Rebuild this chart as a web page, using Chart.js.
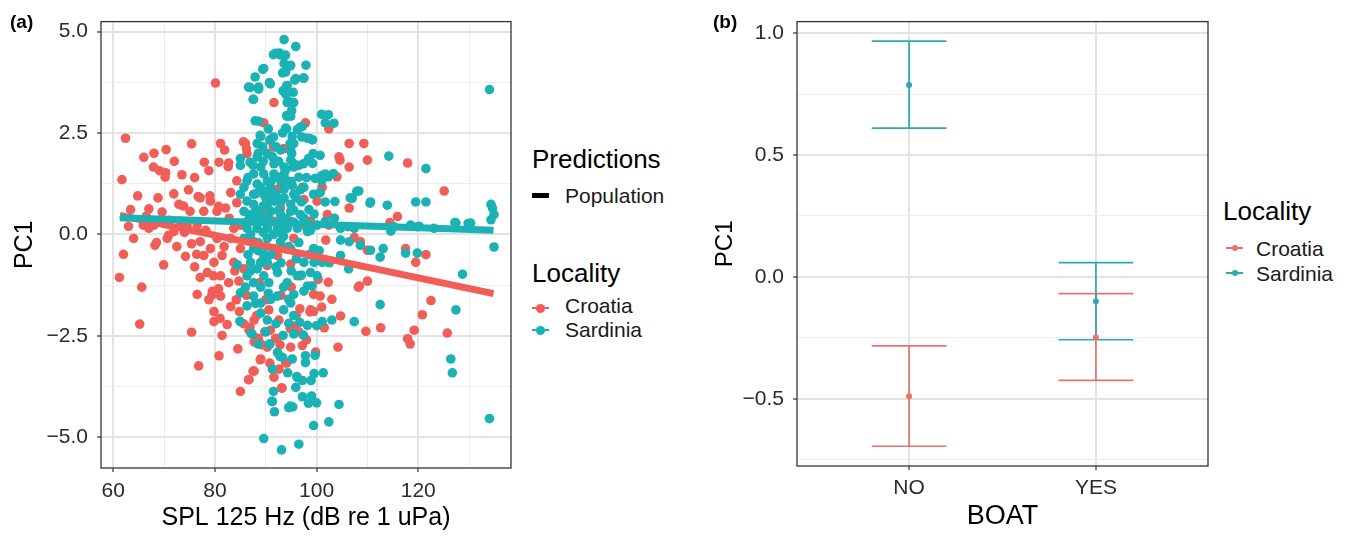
<!DOCTYPE html>
<html>
<head>
<meta charset="utf-8">
<title>PC1 vs SPL and BOAT</title>
<script src="https://cdn.jsdelivr.net/npm/chart.js@4.4.1/dist/chart.umd.min.js"></script>
<style>
    body { margin: 0; background: #fff; font-family: 'Liberation Sans', Arial, Helvetica, sans-serif; }
    #page { position: relative; width: 1348px; height: 537px; overflow: hidden; }
    canvas { position: absolute; top: 0; }
    .txt { position: absolute; line-height: 1; white-space: nowrap; color: #000; }
    .panel-tag { font-weight: bold; font-size: 19px; }
    .leg-title { font-size: 26px; }
    .leg-item { font-size: 21px; color: #1a1a1a; }
    .key-line { position: absolute; width: 17px; height: 2px; }
    .key-dot { position: absolute; border-radius: 50%; }
</style>
</head>
<body>
<div id="page">
    <canvas id="scatterChart" width="520" height="537" style="left:0"></canvas>
    <canvas id="boatChart" width="515" height="537" style="left:700px"></canvas>

    <div class="txt panel-tag" style="left:10px;top:12px">(a)</div>
    <div class="txt panel-tag" style="left:713px;top:12px">(b)</div>

    <!-- legend panel (a) -->
    <div class="txt leg-title" style="left:532px;top:146px">Predictions</div>
    <div style="position:absolute;left:532px;top:193px;width:17px;height:5px;background:#000"></div>
    <div class="txt leg-item" style="left:565px;top:185px">Population</div>
    <div class="txt leg-title" style="left:532px;top:260px">Locality</div>
    <div class="key-line" style="left:532px;top:307px;background:#F15E58"></div>
    <div class="key-dot" style="left:536px;top:304px;width:9px;height:9px;background:#F15E58"></div>
    <div class="txt leg-item" style="left:565px;top:295px">Croatia</div>
    <div class="key-line" style="left:532px;top:329px;background:#1AB2B4"></div>
    <div class="key-dot" style="left:536px;top:326px;width:9px;height:9px;background:#1AB2B4"></div>
    <div class="txt leg-item" style="left:565px;top:319px">Sardinia</div>

    <!-- legend panel (b) -->
    <div class="txt leg-title" style="left:1223px;top:198px">Locality</div>
    <div class="key-line" style="left:1226px;top:247px;height:1.6px;background:#E8736C"></div>
    <div class="key-dot" style="left:1232px;top:245px;width:6px;height:6px;background:#E8736C"></div>
    <div class="txt leg-item" style="left:1256px;top:238px">Croatia</div>
    <div class="key-line" style="left:1226px;top:272px;height:1.6px;background:#2BAAB2"></div>
    <div class="key-dot" style="left:1232px;top:270px;width:6px;height:6px;background:#2BAAB2"></div>
    <div class="txt leg-item" style="left:1256px;top:263px">Sardinia</div>
</div>

<script>
// --- DATA: panel (a), SPL 125 Hz vs PC1 ---
const croatiaSPL = [80.1, 62.4, 61.7, 61.2, 62.0, 65.6, 65.2, 70.4, 70.2, 67.9, 69.1, 64.8, 63.4, 67.0, 71.9, 73.5, 75.4, 77.9, 77.1, 72.9,
    69.6, 68.2, 69.9, 70.9, 74.2, 75.4, 76.8, 76.5, 77.1, 78.8, 79.8, 80.8, 79.8, 81.1, 81.4, 82.4, 83.1, 84.2, 84.5, 85.0,
    86.7, 87.7, 89.0, 87.7, 89.0, 81.1, 81.9, 78.8, 80.8, 82.7, 84.3, 86.0, 86.3, 91.6, 89.6, 94.2, 97.8, 102.4, 106.4, 109.3,
    110.0, 104.4, 106.4, 117.9, 125.1, 115.9, 106.4, 107.4, 108.6, 110.0, 108.4, 110.0, 109.7, 112.6, 104.7, 104.2, 117.5, 119.5, 121.5, 122.5,
    120.8, 119.2, 117.9, 118.4, 125.7, 97.2, 93.9, 93.2, 91.6, 95.5, 98.8, 99.4, 100.7, 101.0, 99.4, 96.8, 100.3, 94.9, 101.8, 102.4,
    101.1, 102.1, 100.1, 97.5, 97.2, 92.3, 91.3, 90.3, 92.9, 84.3, 83.1, 82.1, 80.4, 79.1, 77.8, 76.5, 74.5, 75.1, 73.2, 65.9,
    67.0, 68.0, 70.6, 71.9, 75.4, 77.1, 77.8, 79.1, 80.4, 81.4, 79.8, 78.5, 81.1, 82.7, 83.7, 85.0, 83.1, 83.7, 85.0, 84.7,
    85.7, 86.7, 87.7, 90.9, 91.9, 90.3, 92.6, 94.9, 96.5, 92.6, 90.6, 90.0, 88.7, 89.0, 90.3, 92.3, 93.9, 95.5, 97.5, 98.8,
    94.9, 91.6, 87.7, 86.7, 87.7, 68.5, 76.4, 79.7, 79.4, 80.7, 81.0, 70.3, 76.7, 79.0, 82.6, 80.7, 104.6, 104.0, 85.6, 86.2,
    91.5, 93.4, 96.7, 98.7, 88.9, 90.8, 94.1, 88.5, 89.2, 85.6, 86.9, 94.8, 92.1, 92.8, 87.5, 86.6, 93.1, 102.3, 108.2, 114.4,
    63.0, 64.0, 66.5, 68.8, 71.0, 72.5, 73.8, 74.8, 76.0, 78.2, 79.5, 81.8, 82.8, 83.9, 84.8, 86.2, 88.2, 89.8, 93.0, 95.0,
    96.0, 98.0, 99.8, 101.5, 103.0, 66.0, 68.0, 72.0, 74.0, 76.0];
const croatiaPC1 = [3.73, 2.37, 1.35, -1.06, -0.49, -1.30, -2.21, 2.09, 1.41, 1.66, 1.57, 0.95, 0.61, 0.63, 1.00, 1.47, 2.23, 1.78, 0.90, 0.74,
    0.55, -0.27, -0.75, -0.02, -0.54, -2.41, -3.24, -1.48, -1.06, -1.61, -2.15, -2.99, -1.90, -1.52, -2.49, -2.22, -1.78, -1.61, -2.82, -3.87,
    -3.58, -3.37, -3.07, -2.65, -2.70, 2.24, 2.08, 1.57, 1.78, 1.76, 1.32, 2.24, 1.99, 3.25, 2.75, 2.12, 2.75, 2.60, 2.24, 2.24,
    1.83, 1.91, 1.66, 1.76, 1.07, 0.44, 0.65, -0.08, -0.18, -0.39, -1.27, -1.15, -2.39, -2.30, -2.01, -2.78, -0.35, -0.69, -0.50, -1.63,
    -1.98, -2.36, -2.57, -2.70, -2.43, -2.74, -3.16, -3.79, -3.52, -2.26, -1.86, -1.90, -1.52, -1.79, -1.48, -1.02, -1.11, -0.73, -0.14, 0.23,
    1.16, 0.49, 0.82, 0.86, 1.16, 1.11, 1.07, 0.61, 0.65, 0.78, 1.03, 0.65, 0.57, 0.82, 0.57, 0.23, 0.23, 0.57, 0.32, 0.23,
    0.15, 0.23, -0.10, 0.07, -0.23, -0.18, -0.52, -0.35, -0.10, -0.52, -0.69, -0.94, -1.02, -1.19, -0.69, -0.35, -0.10, 0.15, 0.23, -1.15,
    -0.85, -2.36, -2.11, -2.36, -2.57, -2.78, -3.32, -2.78, -2.40, -2.11, -1.86, -1.61, -1.19, -0.69, -0.77, -0.52, -0.35, -0.10, 0.23, 0.32,
    0.32, 0.32, 0.32, -0.10, -0.18, -0.20, -0.49, -1.02, -1.49, -1.34, -2.07, 1.52, 0.93, 0.95, 1.67, 0.69, 1.83, 1.42, 2.28, 2.11,
    2.15, 2.11, -1.83, -1.91, -3.09, -3.17, -3.17, -2.56, -2.72, -2.20, -2.28, -2.32, -2.56, -2.72, -3.37, -3.58, -3.78, -1.18, -1.30, 0.29,
    0.20, -0.10, 0.45, 0.90, 0.35, -0.30, 0.70, 1.10, -0.80, 0.10, -1.40, -0.30, 0.40, -0.90, -1.90, -1.50, -2.00, -2.40, -1.50, -1.30,
    -2.00, -2.60, -2.90, -2.30, -1.60, 1.90, 2.00, 1.80, 0.05, 1.40];

const sardiniaSPL = [134.0, 134.0, 134.3, 134.6, 134.9, 134.3, 134.9, 128.7, 127.4, 126.4, 126.7, 130.3, 127.4, 121.5, 119.5, 121.5, 114.2, 113.9, 114.6, 110.6,
    108.3, 107.0, 112.5, 113.1, 112.5, 117.5, 119.8, 107.4, 101.7, 101.7, 101.0, 101.7, 101.0, 99.3, 98.4, 97.4, 101.0, 101.7, 104.7, 106.3,
    104.7, 101.1, 99.5, 99.1, 101.1, 98.2, 95.5, 94.5, 97.8, 97.8, 99.5, 97.2, 95.9, 97.2, 98.4, 104.4, 102.4, 99.4, 95.3, 94.5,
    96.2, 95.2, 94.3, 93.3, 92.3, 90.8, 91.3, 91.5, 91.3, 91.7, 89.6, 93.1, 96.5, 93.4, 90.3, 89.0, 87.3, 84.9, 85.0, 84.4,
    86.3, 87.6, 89.0, 93.5, 94.9, 95.5, 92.3, 90.6, 89.6, 88.3, 87.0, 90.3, 92.3, 94.2, 96.2, 97.5, 99.4, 98.8, 100.1, 98.2,
    87.6, 86.3, 89.6, 91.6, 87.6, 85.7, 93.6, 95.9, 91.9, 92.9, 93.9, 93.6, 93.9, 94.9, 97.9, 89.6, 87.9, 90.9, 86.6, 88.6,
    87.6, 97.5, 95.9, 94.2, 93.9, 94.2, 95.5, 94.9, 94.2, 93.9, 93.3, 88.6, 97.2, 98.2, 99.2, 95.5, 94.9, 94.9, 89.0, 88.3,
    90.9, 89.4, 90.3, 85.0, 85.0, 86.9, 87.6, 86.3, 89.0, 91.6, 93.6, 95.5, 96.5, 94.2, 92.3, 90.3, 88.3, 85.7, 85.0, 86.3,
    87.6, 89.6, 91.6, 93.6, 95.5, 97.5, 99.4, 100.7, 98.5, 96.8, 94.9, 92.9, 91.0, 89.0, 86.7, 85.7, 86.3, 88.3, 90.3, 92.3,
    94.2, 96.2, 98.2, 100.1, 90.3, 92.9, 94.9, 89.0, 91.0, 92.9, 94.9, 90.3, 87.6, 89.0, 90.9, 93.6, 95.2, 89.6, 91.6, 93.6,
    91.3, 92.9, 95.2, 96.2, 92.0, 88.3, 106.1, 107.4, 104.7, 108.6, 110.6, 106.4, 115.2, 118.5, 119.8, 123.1, 91.5, 92.7, 94.8, 93.3,
    89.4, 90.7, 86.9, 88.6, 87.5, 97.4, 95.7, 94.1, 93.4, 95.4, 94.4, 95.1, 94.1, 87.9, 102.3, 103.4, 96.7, 94.1, 98.7, 97.1,
    88.9, 90.8, 94.8, 95.1, 95.4, 100.7, 99.2, 103.3, 102.3, 99.7, 107.9, 106.6, 103.6, 110.5, 94.8, 91.2, 100.0, 99.0, 98.9, 101.3,
    99.7, 96.1, 92.8, 90.7, 97.4, 100.0, 103.0, 96.7, 87.1, 127.2, 129.8, 120.2, 88.0, 89.5, 91.5, 93.5, 95.5, 97.0, 96.0, 93.0,
    88.5, 86.5, 91.0, 93.0, 94.0, 90.0, 96.5, 92.0, 95.0, 97.5, 90.5, 88.0,
    86.0, 87.0, 88.5, 89.5, 90.5, 91.5, 92.5, 93.5, 94.5, 95.5, 96.5, 97.5, 98.5, 99.5, 88.0, 89.0, 90.0, 91.0, 92.0, 93.0,
    94.0, 95.0, 96.0, 97.0, 98.0, 86.5, 87.5, 88.5, 89.5, 90.5, 91.5, 92.5, 93.5, 94.5, 91.0, 89.0, 87.0, 86.0, 95.5, 92.0,
    90.0, 88.5, 87.5, 90.2, 92.8, 96.8, 98.8, 100.5, 102.5, 103.5];
const sardiniaPC1 = [3.57, -4.54, 0.74, 0.65, 0.49, 0.36, -0.31, -0.98, -1.86, -3.07, -3.41, 0.28, 0.28, 0.80, 0.80, 1.62, 1.93, 0.72, 0.08, 0.80,
    1.07, 0.89, -1.73, -0.35, -0.56, -0.46, -0.46, -2.15, 0.80, 0.32, 2.96, 2.75, 1.45, 1.99, 1.87, 1.74, 1.32, 1.49, -0.52, -0.85,
    -0.14, -0.69, -0.69, -1.27, -2.15, -2.24, -2.45, -2.19, -2.99, -3.16, -3.43, -3.60, -3.77, -4.00, -4.16, -4.19, -4.62, -4.71, -4.25, -4.27,
    -3.53, -3.07, -3.41, -3.03, -2.91, -2.70, -3.32, -3.87, -4.12, -4.37, -5.03, -5.31, -5.17, -2.49, -2.11, -1.94, -2.45, -2.14, -1.44, -0.75,
    -1.76, -1.52, -1.69, -1.86, -1.69, -1.48, -1.52, -1.19, -1.02, -0.85, -0.69, -0.69, -0.94, -1.19, -1.02, -0.69, -0.35, -0.94, -1.02, -1.27,
    -1.19, -1.02, -0.52, -0.35, -0.35, -0.10, 4.80, 4.63, 4.46, 4.42, 4.42, 4.21, 4.00, 4.17, 4.17, 4.09, 3.88, 3.71, 3.63, 3.63,
    3.33, 3.85, 3.84, 3.67, 3.46, 3.25, 3.25, 2.91, 2.91, 2.62, 2.50, 2.79, 2.66, 2.37, 2.33, 2.24, 2.08, 1.83, 2.41, 2.24,
    2.33, 2.16, 1.99, 1.87, 1.70, 1.78, 1.49, 1.32, 1.66, 1.74, 1.66, 1.66, 1.41, 1.32, 1.41, 1.32, 1.24, 1.16, 0.99, 0.82,
    0.99, 0.99, 0.82, 0.90, 0.99, 1.16, 0.99, 1.03, 0.61, 0.49, 0.57, 0.49, 0.57, 0.49, 0.49, 0.57, 0.15, 0.15, 0.15, 0.15,
    0.15, 0.15, 0.07, 0.23, -0.10, -0.18, -0.35, 0.32, 0.32, 0.32, 0.74, 0.74, 0.74, 1.16, 1.16, 1.11, 1.20, 1.49, 1.49, 1.49,
    1.91, 2.08, 2.41, 2.58, 2.16, 1.91, 0.19, 0.15, 0.15, -0.27, -0.39, -0.18, 0.19, 0.23, 0.19, 0.15, 4.43, 4.47, 4.15, 3.98,
    4.07, 3.74, 3.62, 3.58, 3.33, 3.85, 3.80, 3.66, 3.54, 3.50, 3.29, 3.05, 2.93, 2.80, 2.95, 2.74, 2.64, 2.60, 2.36, 2.40,
    2.44, 2.32, 2.24, 1.99, 1.75, 1.95, 1.75, 1.50, 1.42, 1.38, 1.06, 0.90, 0.81, 0.77, -4.23, -4.11, -4.15, -3.98, -3.60, -3.41,
    -2.98, -3.50, -3.01, -2.71, -2.48, -2.25, -2.11, -2.17, -2.44, 0.29, 0.27, 0.20, 0.60, 0.05, 0.00, -0.05, 0.30, 0.80, -0.60, -0.70,
    -0.40, -0.50, -0.50, 1.30, 0.40, 0.90, 1.70, 1.00, -0.90, -1.40, -1.45, -1.70,
    0.30, 0.00, -0.20, 0.70, 0.40, 0.90, 0.60, 0.20, -0.30, 0.60, -0.20, 0.40, -0.50, 0.50, 1.00, -0.70, -0.30, 1.30, -0.80, 0.80,
    1.60, 1.30, 0.90, -1.00, 1.40, 1.40, 1.70, 2.00, 1.80, 2.60, 2.40, 1.80, -1.30, -1.60, -1.60, -1.30, -0.90, -1.30, -2.00, -2.20,
    -2.40, -2.70, 0.45, 1.05, 0.05, 1.10, 0.10, -0.40, -0.70, 0.40];

// population-level prediction lines (end points)
const fitSPL = [61.3, 134.8];
const croatiaFit = [0.47, -1.46];
const sardiniaFit = [0.41, 0.10];

const xMajorTicks = [60, 80, 100, 120];
const yMajorTicks = [-5, -2.5, 0, 2.5, 5];

// --- DATA: panel (b), PC1 by BOAT ---
const boatLevels = ['NO', 'YES'];
const boatPos = [1, 2];
const croatiaMean = [-0.490, -0.249];
const croatiaLow = [-0.695, -0.425];
const croatiaHigh = [-0.283, -0.069];
const sardiniaMean = [0.787, -0.100];
const sardiniaLow = [0.610, -0.258];
const sardiniaHigh = [0.967, 0.058];

// --- STYLE ---
const RED_A = '#F15E58';
const TEAL_A = '#1AB2B4';
const RED_B = '#E8736C';
const TEAL_B = '#2BAAB2';
const GRID_MAJOR = '#E3E3E3';
const GRID_MINOR = '#EDEDED';
const CAP_HALF = 0.2;

Chart.defaults.font.family = "'Liberation Sans', Arial, Helvetica, sans-serif";
Chart.defaults.color = '#333';
Chart.defaults.animation = false;

const panelBorder = {
    id: 'panelBorder',
    afterDatasetsDraw(chart) {
        const { ctx, chartArea: a } = chart;
        ctx.save();
        ctx.strokeStyle = '#333';
        ctx.lineWidth = 1.3;
        ctx.strokeRect(a.left, a.top, a.right - a.left, a.bottom - a.top);
        ctx.restore();
    }
};

function pairs(xs, ys) {
    return xs.map((x, i) => ({ x: x, y: ys[i] }));
}

function isMajor(list, v) {
    return list.some(m => Math.abs(m - v) < 1e-6);
}

function fmt(v) {
    return v.toFixed(1).replace('-', '\u2212');
}

// grid options with thick major / thin minor lines, tick marks on majors only
function gridFor(majors) {
    const major = c => c.tick && isMajor(majors, c.tick.value);
    return {
        color: c => major(c) ? GRID_MAJOR : GRID_MINOR,
        lineWidth: c => major(c) ? 2 : 1,
        tickLength: 4,
        tickWidth: 1.2,
        tickColor: c => major(c) ? '#333' : 'rgba(0,0,0,0)'
    };
}

// --- PANEL (a) ---
function createScatterChart() {
    const ctx = document.getElementById('scatterChart').getContext('2d');
    new Chart(ctx, {
        type: 'scatter',
        data: {
            datasets: [
                { data: pairs(fitSPL, sardiniaFit), showLine: true, borderColor: TEAL_A, borderWidth: 7, borderCapStyle: 'butt', pointRadius: 0, order: 0 },
                { data: pairs(fitSPL, croatiaFit), showLine: true, borderColor: RED_A, borderWidth: 7, borderCapStyle: 'butt', pointRadius: 0, order: 1 },
                { data: pairs(sardiniaSPL, sardiniaPC1), backgroundColor: TEAL_A, pointRadius: 4.8, pointBorderWidth: 0, order: 2 },
                { data: pairs(croatiaSPL, croatiaPC1), backgroundColor: RED_A, pointRadius: 4.8, pointBorderWidth: 0, order: 3 }
            ]
        },
        options: {
            responsive: false,
            devicePixelRatio: 1,
            layout: { padding: { top: 17, right: 9, bottom: 0, left: 0 } },
            plugins: { legend: { display: false }, tooltip: { enabled: false } },
            scales: {
                x: {
                    type: 'linear', min: 57.58, max: 138.24,
                    afterFit: s => { s.height = 69; },
                    border: { display: false },
                    grid: gridFor(xMajorTicks),
                    ticks: {
                        stepSize: 10, includeBounds: false, autoSkip: false, maxRotation: 0, padding: 7,
                        font: { size: 21 }, color: '#2b2b2b',
                        callback: v => isMajor(xMajorTicks, v) ? String(v) : ''
                    },
                    title: { display: true, text: 'SPL 125 Hz (dB re 1 uPa)', font: { size: 25 }, color: '#000', padding: { top: 4, bottom: 4 } }
                },
                y: {
                    type: 'linear', min: -5.756, max: 5.244,
                    afterFit: s => { s.width = 101; },
                    border: { display: false },
                    grid: gridFor(yMajorTicks),
                    ticks: {
                        stepSize: 1.25, includeBounds: false, autoSkip: false, padding: 9,
                        font: { size: 21 }, color: '#2b2b2b',
                        callback: v => isMajor(yMajorTicks, v) ? fmt(v) : ''
                    },
                    title: { display: true, text: 'PC1', font: { size: 25 }, color: '#000', padding: { top: 10, bottom: 10 } }
                }
            }
        },
        plugins: [panelBorder]
    });
}

// --- PANEL (b) ---
function errorBarPath(low, high) {
    const pts = [];
    boatPos.forEach((x, i) => {
        pts.push({ x: x - CAP_HALF, y: high[i] }, { x: x + CAP_HALF, y: high[i] }, { x: x, y: null });
        pts.push({ x: x, y: high[i] }, { x: x, y: low[i] }, { x: x, y: null });
        pts.push({ x: x - CAP_HALF, y: low[i] }, { x: x + CAP_HALF, y: low[i] }, { x: x, y: null });
    });
    return pts;
}

function createBoatChart() {
    const ctx = document.getElementById('boatChart').getContext('2d');
    const bYMajor = [-0.5, 0, 0.5, 1];
    new Chart(ctx, {
        type: 'scatter',
        data: {
            datasets: [
                { data: pairs(boatPos, sardiniaMean), backgroundColor: TEAL_B, pointRadius: 3, pointBorderWidth: 0, order: 0 },
                { data: pairs(boatPos, croatiaMean), backgroundColor: RED_B, pointRadius: 3, pointBorderWidth: 0, order: 1 },
                { data: errorBarPath(sardiniaLow, sardiniaHigh), showLine: true, spanGaps: false, borderColor: TEAL_B, borderWidth: 1.7, pointRadius: 0, order: 2 },
                { data: errorBarPath(croatiaLow, croatiaHigh), showLine: true, spanGaps: false, borderColor: RED_B, borderWidth: 1.7, pointRadius: 0, order: 3 }
            ]
        },
        options: {
            responsive: false,
            devicePixelRatio: 1,
            layout: { padding: { top: 14, right: 7, bottom: 0, left: 0 } },
            plugins: { legend: { display: false }, tooltip: { enabled: false } },
            scales: {
                x: {
                    type: 'linear', min: 0.4, max: 2.6,
                    afterFit: s => { s.height = 71; },
                    afterBuildTicks: s => { s.ticks = boatPos.map(v => ({ value: v })); },
                    border: { display: false },
                    grid: gridFor(boatPos),
                    ticks: {
                        autoSkip: false, maxRotation: 0, padding: 6, font: { size: 21 }, color: '#2b2b2b',
                        callback: v => boatLevels[boatPos.indexOf(v)] || ''
                    },
                    title: { display: true, text: 'BOAT', font: { size: 27 }, color: '#000', padding: { top: 4, bottom: 4 } }
                },
                y: {
                    type: 'linear', min: -0.776, max: 1.047,
                    afterFit: s => { s.width = 97; },
                    border: { display: false },
                    grid: gridFor(bYMajor),
                    ticks: {
                        stepSize: 0.25, includeBounds: false, autoSkip: false, padding: 9,
                        font: { size: 21 }, color: '#2b2b2b',
                        callback: v => isMajor(bYMajor, v) ? fmt(v) : ''
                    },
                    title: { display: true, text: 'PC1', font: { size: 24 }, color: '#000', padding: { top: 11, bottom: 11 } }
                }
            }
        },
        plugins: [panelBorder]
    });
}

document.addEventListener('DOMContentLoaded', function() {
    createScatterChart();
    createBoatChart();
});
</script>
</body>
</html>
